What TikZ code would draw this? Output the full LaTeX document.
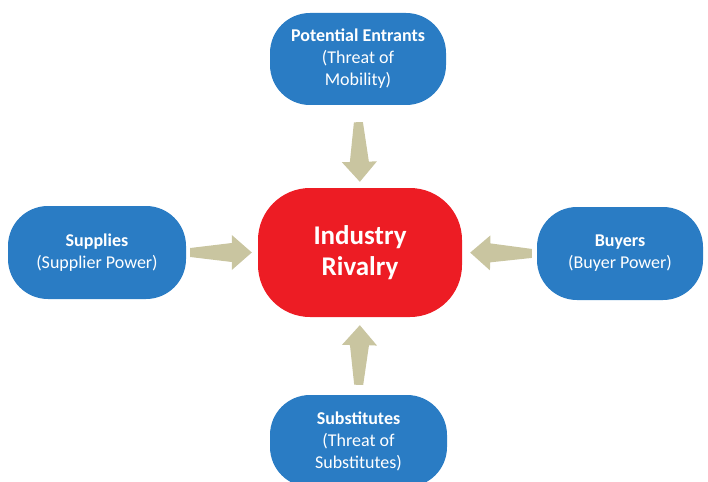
\documentclass[tikz,border=0pt]{standalone}
\usepackage{fontspec}
\setmainfont{Carlito}
\usepackage{xcolor}
\usepackage{tikz}
\usetikzlibrary{calc}

\definecolor{forceblue}{HTML}{2A7CC4}
\definecolor{rivalred}{HTML}{ED1C24}
\definecolor{arrowtan}{HTML}{C9C5A0}

% tapered block arrow from one anchor to another: #3 = tail gap, #4 = tip gap
\newcommand{\forcearrow}[4]{%
  \path ($(#1)!#3!(#2)$) coordinate (ft) ($(#2)!#4!(#1)$) coordinate (fh);
  \fill[arrowtan] ($(ft)!4.5pt!90:(fh)$)
    -- ($(fh)!20pt!(ft)!9.5pt!-90:(ft)$)
    -- ($(fh)!20pt!(ft)!17.5pt!-90:(ft)$)
    -- (fh)
    -- ($(fh)!20pt!(ft)!17.5pt!90:(ft)$)
    -- ($(fh)!20pt!(ft)!9.5pt!90:(ft)$)
    -- ($(ft)!4.5pt!-90:(fh)$) -- cycle;
}

\begin{document}
\begin{tikzpicture}[
    x=1pt, y=-1pt,
    force/.style={fill=forceblue, text=white, align=center, inner sep=0pt,
        rounded corners=40pt, minimum width=176pt, minimum height=92pt,
        font=\fontsize{18}{22}\selectfont},
    rivalry/.style={fill=rivalred, text=white, align=center, inner sep=0pt,
        rounded corners=52pt, minimum width=204pt, minimum height=129pt,
        font=\fontsize{27}{31}\selectfont\bfseries}
]
\clip (0,0) rectangle (708,481);

% the five forces
\node[rivalry] (rival) at (360,252.5) {Industry\\Rivalry};
\node[force] (entrants) at (358,59) {\textbf{Potential Entrants}\\(Threat of\\Mobility)};
\node[force, minimum width=178pt, minimum height=93pt] (suppliers) at (97,252.5)
    {\textbf{Supplies}\\(Supplier Power)};
\node[force, minimum width=166pt, minimum height=93pt] (buyers) at (620,253.5)
    {\textbf{Buyers}\\(Buyer Power)};
\node[force, minimum width=177pt] (substitutes) at (358.5,441)
    {\textbf{Substitutes}\\(Threat of\\Substitutes)};

% arrows into the rivalry box
\forcearrow{entrants.south}{rival.north}{17pt}{6pt}
\forcearrow{suppliers.east}{rival.west}{4pt}{6pt}
\forcearrow{buyers.west}{rival.east}{5pt}{8pt}
\forcearrow{substitutes.north}{rival.south}{10pt}{8pt}
\end{tikzpicture}
\end{document}
